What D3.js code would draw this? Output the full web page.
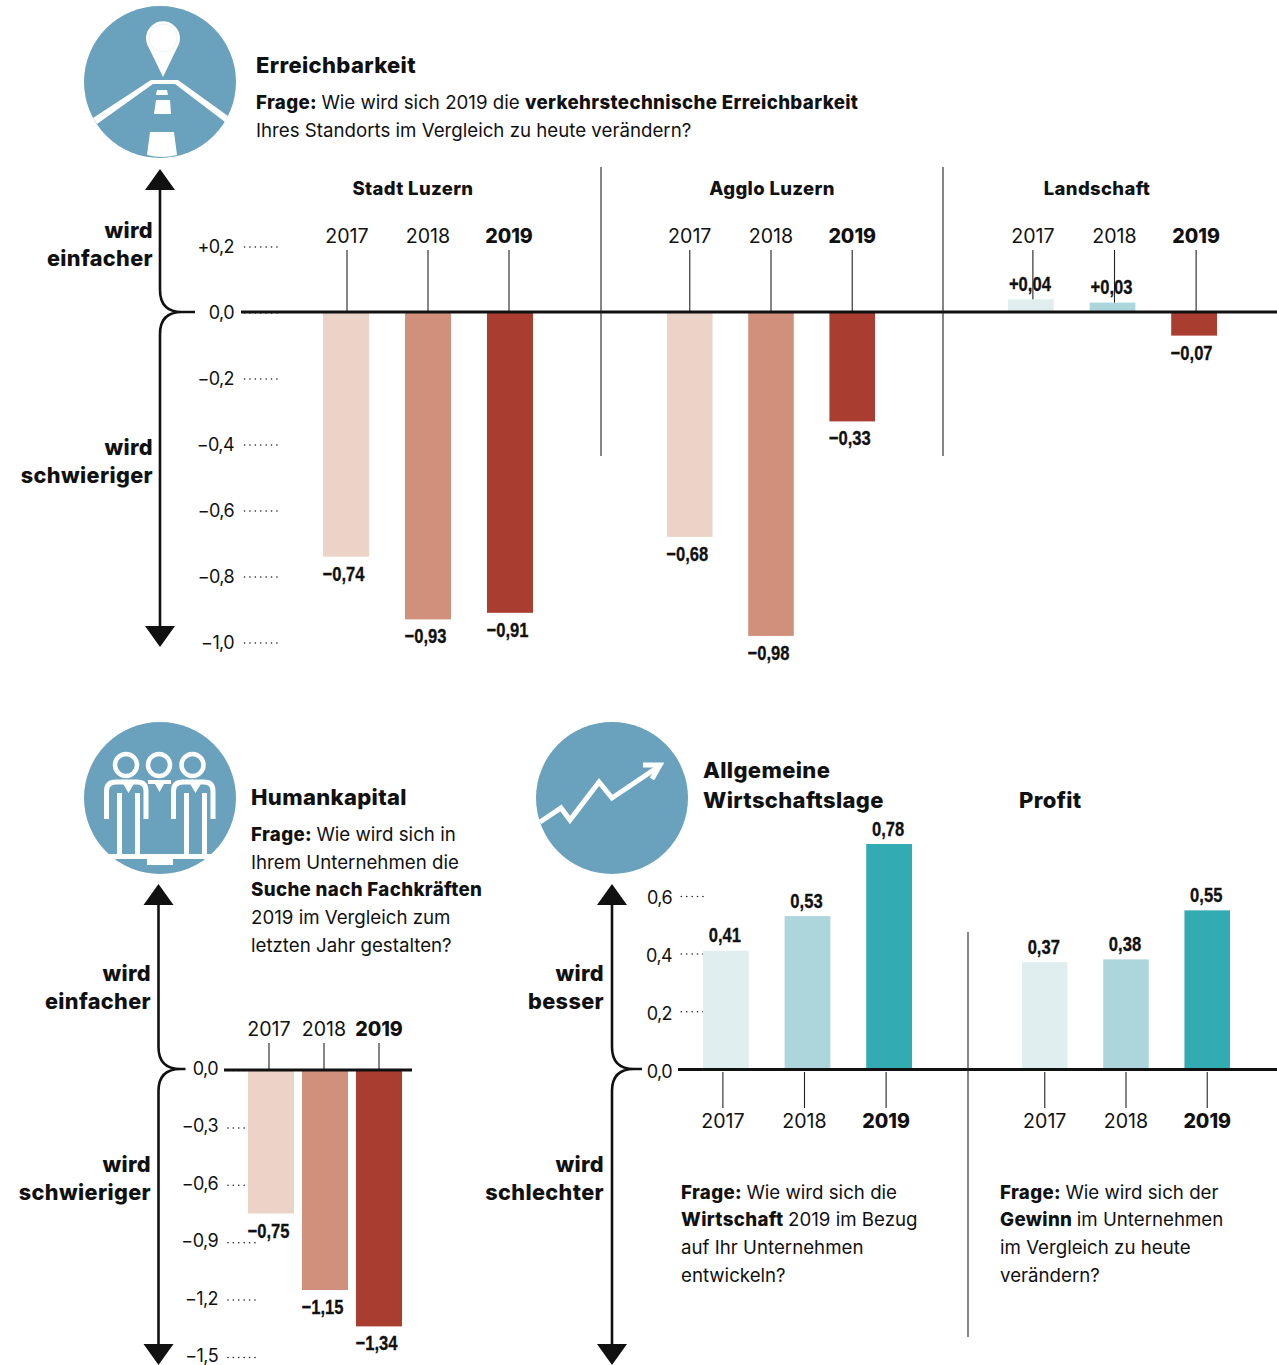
<!DOCTYPE html>
<html>
<head>
<meta charset="utf-8">
<script src="https://d3js.org/d3.v7.min.js"></script>
<style>
  html, body { margin: 0; padding: 0; background: #fff; }
  svg { display: block; }
  text { font-family: Inter, "Noto Sans", sans-serif; fill: #111; }
  .b { font-weight: 800; letter-spacing: 0.35px; }
  .yr.b { letter-spacing: 0; }
  .val { font-family: "Liberation Sans", sans-serif; font-weight: 700; font-size: 21px; stroke: #111; stroke-width: 0.3px; }
  .axis text { font-family: Inter, sans-serif; font-size: 18px; font-weight: 400; letter-spacing: -0.6px; }
</style>
</head>
<body>
<div id="chart"></div>
<script>
const years = ["2017", "2018", "2019"];

// Erreichbarkeit
const stadtLuzern = [-0.74, -0.93, -0.91];
const aggloLuzern = [-0.68, -0.98, -0.33];
const landschaft = [0.04, 0.03, -0.07];
// Humankapital
const humankapital = [-0.75, -1.15, -1.34];
// Wirtschaftslage / Profit
const wirtschaft = [0.41, 0.53, 0.78];
const profit = [0.37, 0.38, 0.55];

const ticksTop = [0.2, 0, -0.2, -0.4, -0.6, -0.8, -1.0];
const ticksHuman = [0, -0.3, -0.6, -0.9, -1.2, -1.5];
const ticksEcon = [0, 0.2, 0.4, 0.6];

const colorsNeg = ["#ecd3c8", "#d0907b", "#a93d30"];
const colorsPos = ["#e0eef0", "#acd6dc", "#33abb3"];
const blue = "#6aa1bc";

const svg = d3.select("#chart").append("svg").attr("width", 1277).attr("height", 1365);

const comma = d => d3.format(".1f")(Math.abs(d)).replace(".", ",");
const axisFmt = d => (d > 0 ? "+" : d < 0 ? "\u2212" : "") + comma(d);
const axisFmtPlain = d => (d < 0 ? "\u2212" : "") + comma(d);
const valFmt = d => (d > 0 ? "" : "\u2212") + d3.format(".2f")(Math.abs(d)).replace(".", ",");
const valFmtPlus = d => (d > 0 ? "+" : "\u2212") + d3.format(".2f")(Math.abs(d)).replace(".", ",");

// text with bold and regular runs, one array per line
function rich(x, ys, lines, size) {
  lines.forEach((line, i) => {
    const t = svg.append("text").attr("x", x).attr("y", ys[i]).style("font-size", size + "px");
    line.forEach(run => t.append("tspan").attr("class", run[0] ? "b" : null).text(run[1]));
  });
}

function label(x, y, txt, size, anchor, bold, cls) {
  svg.append("text").attr("x", x).attr("y", y).attr("text-anchor", anchor || "start")
    .attr("class", (bold ? "b " : "") + (cls || "")).style("font-size", size + "px").text(txt);
}

function yAxis(scale, ticks, xRight, len, pad, dy, fmt) {
  const g = svg.append("g").attr("class", "axis").attr("transform", `translate(${xRight},0)`)
    .call(d3.axisLeft(scale).tickValues(ticks).tickSize(len).tickPadding(pad).tickFormat(fmt));
  g.select(".domain").remove();
  g.selectAll("line").attr("stroke", "#222").attr("stroke-width", 1.5)
    .attr("stroke-linecap", "round").attr("stroke-dasharray", "0.1 5.3");
  g.selectAll("text").attr("dy", dy).attr("fill", "#111");
}

function panel(values, range, inner, y, fmt, opts) {
  const x = d3.scaleBand().domain(years).range(range).paddingInner(inner);
  const colors = i => values[i] < 0 ? colorsNeg[i] : colorsPos[i];
  const g = svg.append("g");
  g.selectAll("rect").data(values).join("rect")
    .attr("x", (d, i) => x(years[i]))
    .attr("width", x.bandwidth())
    .attr("y", d => d < 0 ? y(0) : y(d))
    .attr("height", d => Math.abs(y(d) - y(0)))
    .attr("fill", (d, i) => colors(i));
  // year ticks and labels
  years.forEach((yr, i) => {
    const cx = x(yr) + x.bandwidth() / 2 + opts.tickShift[i];
    const end = values[i] > 0 ? y(values[i]) : y(0);
    if (opts.below) {
      g.append("line").attr("x1", cx).attr("x2", cx).attr("y1", y(0) + 3).attr("y2", opts.yearY - 20).attr("stroke", "#222").attr("stroke-width", 1.1);
    } else {
      g.append("line").attr("x1", cx).attr("x2", cx).attr("y1", opts.yearY + 7).attr("y2", end).attr("stroke", "#222").attr("stroke-width", 1.1);
    }
    label(cx, opts.yearY, yr, 19.6, "middle", i === 2, "yr");
  });
  // value labels, squeezed because the original face is condensed
  g.selectAll("text.val").data(values).join("text").attr("class", "val")
    .attr("text-anchor", "middle")
    .attr("x", (d, i) => x(years[i]) + x.bandwidth() / 2 + (d < 0 ? -2.5 : -1))
    .attr("y", d => d < 0 ? y(d) + 24 : y(d) - 8.5)
    .text(fmt)
    .each(function () {
      d3.select(this).attr("lengthAdjust", "spacingAndGlyphs").attr("textLength", this.getComputedTextLength() * 0.79);
    });
}

function zeroLine(x1, x2, yPos) {
  svg.append("line").attr("x1", x1).attr("x2", x2).attr("y1", yPos).attr("y2", yPos).attr("stroke", "#111").attr("stroke-width", 2.8);
}

function vrule(x, y1, y2) {
  svg.append("line").attr("x1", x).attr("x2", x).attr("y1", y1).attr("y2", y2).attr("stroke", "#222").attr("stroke-width", 1.1);
}

// the two arrows with the curly bracket at zero
function bracket(x, y0, top, bottom, stub) {
  const r = 22;
  svg.append("path").attr("fill", "none").attr("stroke", "#111").attr("stroke-width", 2.6)
    .attr("d", `M${x},${top + 18} V${y0 - r} Q${x},${y0} ${x + r},${y0} H${x + stub} M${x + r},${y0} Q${x},${y0} ${x},${y0 + r} V${bottom - 18}`);
  svg.append("path").attr("fill", "#111").attr("d", `M${x},${top} L${x + 15},${top + 21} H${x - 15} Z`);
  svg.append("path").attr("fill", "#111").attr("d", `M${x},${bottom} L${x + 15},${bottom - 21} H${x - 15} Z`);
}

// --- Erreichbarkeit ---
const yTop = d3.scaleLinear().domain([0, -1]).range([312.5, 642.5]);
bracket(160, 312, 169, 647, 35);
yAxis(yTop, ticksTop, 277, 35, 8, 6, axisFmt);
panel(stadtLuzern, [323, 533], 0.439, yTop, valFmt, { yearY: 243, tickShift: [1, 0, -1] });
panel(aggloLuzern, [667, 875], 0.439, yTop, valFmt, { yearY: 243, tickShift: [0, 0, 0] });
panel(landschaft, [1008, 1217], 0.439, yTop, valFmtPlus, { yearY: 243, tickShift: [2, 2, 2] });
zeroLine(241, 1277, 312);
vrule(601, 167, 456);
vrule(943, 167, 456);
label(413, 195, "Stadt Luzern", 18.5, "middle", true);
label(772, 195, "Agglo Luzern", 18.5, "middle", true);
label(1097, 195, "Landschaft", 18.5, "middle", true);
label(256, 73, "Erreichbarkeit", 22, "start", true);
rich(256, [109, 137], [
  [[1, "Frage: "], [0, "Wie wird sich 2019 die "], [1, "verkehrstechnische Erreichbarkeit"]],
  [[0, "Ihres Standorts im Vergleich zu heute verändern?"]]
], 18.7);
label(153, 238, "wird", 21.7, "end", true);
label(153, 266, "einfacher", 21.7, "end", true);
label(153, 455, "wird", 21.7, "end", true);
label(153, 483, "schwieriger", 21.7, "end", true);

// --- Humankapital ---
const yHuman = d3.scaleLinear().domain([0, -1.5]).range([1070, 1357]);
bracket(158.5, 1069, 884, 1365, 27);
yAxis(yHuman, ticksHuman, 255, 31, 6, 4.5, axisFmtPlain);
panel(humankapital, [248, 402], 0.148, yHuman, valFmt, { yearY: 1036, tickShift: [-2, -1, 0] });
zeroLine(224, 412, 1070);
label(251, 805, "Humankapital", 22, "start", true);
rich(251, [841, 869, 896, 924, 952], [
  [[1, "Frage: "], [0, "Wie wird sich in"]],
  [[0, "Ihrem Unternehmen die"]],
  [[1, "Suche nach Fachkräften"]],
  [[0, "2019 im Vergleich zum"]],
  [[0, "letzten Jahr gestalten?"]]
], 18.7);
label(151, 981, "wird", 21.7, "end", true);
label(151, 1009, "einfacher", 21.7, "end", true);
label(151, 1172, "wird", 21.7, "end", true);
label(151, 1200, "schwieriger", 21.7, "end", true);

// --- Wirtschaftslage und Profit ---
const yEcon = d3.scaleLinear().domain([0, 0.78]).range([1069, 844]);
bracket(612, 1069, 884, 1365, 30);
yAxis(yEcon, ticksEcon, 703, 24, 7, 8, axisFmtPlain);
panel(wirtschaft, [703, 912], 0.439, yEcon, valFmt, { yearY: 1128, tickShift: [-3, -3, -3], below: true });
panel(profit, [1022, 1230], 0.439, yEcon, valFmt, { yearY: 1128, tickShift: [0, 0, 0], below: true });
zeroLine(678, 1277, 1069.5);
vrule(968, 932, 1337);
label(703, 778, "Allgemeine", 22, "start", true);
label(703, 808, "Wirtschaftslage", 22, "start", true);
label(1019, 808, "Profit", 22, "start", true);
label(604, 981, "wird", 21.7, "end", true);
label(604, 1009, "besser", 21.7, "end", true);
label(604, 1172, "wird", 21.7, "end", true);
label(604, 1200, "schlechter", 21.7, "end", true);
rich(681, [1199, 1226, 1254, 1282], [
  [[1, "Frage: "], [0, "Wie wird sich die"]],
  [[1, "Wirtschaft "], [0, "2019 im Bezug"]],
  [[0, "auf Ihr Unternehmen"]],
  [[0, "entwickeln?"]]
], 18.7);
rich(1000, [1199, 1226, 1254, 1282], [
  [[1, "Frage: "], [0, "Wie wird sich der"]],
  [[1, "Gewinn "], [0, "im Unternehmen"]],
  [[0, "im Vergleich zu heute"]],
  [[0, "verändern?"]]
], 18.7);

// --- Icons ---
function iconRoad(g) {
  g.append("circle").attr("cx", 160).attr("cy", 82).attr("r", 76).attr("fill", blue);
  g.append("path").attr("fill", "#fff").attr("d", "M163,77 L149,48 A17,17 0 1 1 177,48 Z");
  g.append("circle").attr("cx", 163).attr("cy", 38).attr("r", 14).attr("fill", "none").attr("stroke", "#dce9ef").attr("stroke-width", 0.6);
  g.append("path").attr("fill", "#fff").attr("d", "M151,80 H178 L228,116 L225,122 L175,84 H153 L97,124 L93,118 Z");
  g.append("path").attr("fill", "#fff").attr("d", "M157,90 H167 L168,95 H156 Z M156,100 H170 L171,114 H154 Z M150,132 H174 L177,155 Q162,159 147,155 Z");
}
function iconPeople(g) {
  g.append("circle").attr("cx", 160).attr("cy", 798).attr("r", 76).attr("fill", blue);
  [126, 159, 192.5].forEach(cx => {
    g.append("circle").attr("cx", cx).attr("cy", 765).attr("r", 11).attr("fill", "none").attr("stroke", "#fff").attr("stroke-width", 4.5);
  });
  [104, 171].forEach(l => {
    g.append("path").attr("fill", "none").attr("stroke", "#fff").attr("stroke-width", 5)
      .attr("d", `M${l + 2.5},819 V791 Q${l + 2.5},782 ${l + 12},782 H${l + 33} Q${l + 42},782 ${l + 42},791 V819`);
    g.append("path").attr("fill", "#fff").attr("d", `M${l + 13},793 h5 v61 h-5 Z M${l + 31},793 h5 v61 h-5 Z M${l + 18},782 h13 l-6.5,11 Z`);
  });
  g.append("path").attr("fill", "#fff").attr("d", "M148,780 H171 V784 H164 L159.5,792 L155,784 H148 Z");
  g.append("rect").attr("x", 84).attr("y", 854).attr("width", 152).attr("height", 5).attr("fill", "#fff");
  g.append("rect").attr("x", 147).attr("y", 856).attr("width", 26).attr("height", 9).attr("fill", "#fff");
}
function iconTrend(g) {
  g.append("circle").attr("cx", 612).attr("cy", 798).attr("r", 76).attr("fill", blue);
  g.append("path").attr("fill", "none").attr("stroke", "#fff").attr("stroke-width", 5)
    .attr("d", "M540,822 L561,808 L570,820 L599,782 L612,798 L658,767");
  g.append("path").attr("fill", "none").attr("stroke", "#fff").attr("stroke-width", 5)
    .attr("d", "M643,765 L660,765 L652,779");
}
iconRoad(svg.append("g"));
iconPeople(svg.append("g"));
iconTrend(svg.append("g"));
</script>
</body>
</html>
